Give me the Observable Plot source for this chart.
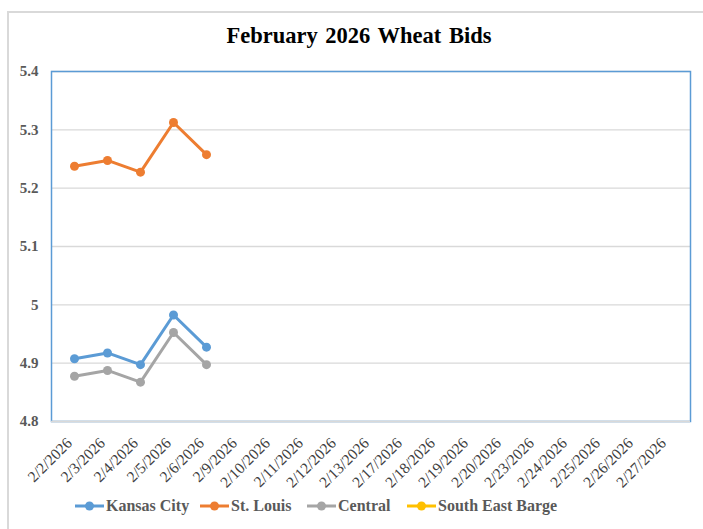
<!DOCTYPE html>
<html>
<head>
<meta charset="utf-8">
<script src="https://cdn.jsdelivr.net/npm/d3@7"></script>
<script src="https://cdn.jsdelivr.net/npm/@observablehq/plot@0.6"></script>
<style>
  html, body { margin: 0; padding: 0; background: #fff; }
  #wrap { position: relative; width: 703px; height: 529px; overflow: hidden; font-family: "Liberation Serif", "Times New Roman", serif; }
  #outer { position: absolute; left: 7px; top: 11px; width: 720px; height: 540px; border-left: 2px solid #d9d9d9; border-top: 2px solid #d9d9d9; }
  #title { position: absolute; left: 0; width: 718px; top: 23px; text-align: center; font-weight: bold; font-size: 22.5px; color: #000; word-spacing: 2px; }
  #chart { position: absolute; left: 0; top: 0; }
  #chart svg, #chart svg text { font-family: "Liberation Serif", "Times New Roman", serif !important; }
  #legend { position: absolute; top: 497px; left: 0; width: 703px; height: 20px; }
  .item { position: absolute; top: 0; display: flex; align-items: center; font-weight: bold; font-size: 16px; color: #595959; }
  .item svg { margin-right: 2px; }
</style>
</head>
<body>
<div id="wrap">
  <div id="outer"></div>
  <div id="chart"></div>
  <div id="title">February 2026 Wheat Bids</div>
  <div id="legend"></div>
</div>
<script>
const dates = ["2/2/2026","2/3/2026","2/4/2026","2/5/2026","2/6/2026","2/9/2026","2/10/2026","2/11/2026","2/12/2026","2/13/2026","2/17/2026","2/18/2026","2/19/2026","2/20/2026","2/23/2026","2/24/2026","2/25/2026","2/26/2026","2/27/2026"];
const kansasCity = [4.9075, 4.9175, 4.8975, 4.9825, 4.9275];
const stLouis = [5.2375, 5.2475, 5.2275, 5.3125, 5.2575];
const central = [4.8775, 4.8875, 4.8675, 4.9525, 4.8975];
const southEastBarge = [];
const seriesNames = ["Kansas City", "St. Louis", "Central", "South East Barge"];
const seriesColors = ["#5B9BD5", "#ED7D31", "#A5A5A5", "#FFC000"];
const yTicks = [4.8, 4.9, 5.0, 5.1, 5.2, 5.3, 5.4];

const allSeries = [kansasCity, stLouis, central, southEastBarge];
const rows = [];
allSeries.forEach((vals, si) => {
  vals.forEach((v, i) => {
    if (v != null) rows.push({series: seriesNames[si], date: dates[i], value: v});
  });
});

const plot = Plot.plot({
  width: 703,
  height: 495,
  marginLeft: 51,
  marginRight: 13,
  marginTop: 71,
  marginBottom: 74,
  style: { fontFamily: '"Liberation Serif", "Times New Roman", serif', background: "transparent", overflow: "visible" },
  x: { type: "point", domain: dates, padding: 0.5, label: null },
  y: { domain: [4.8, 5.4], ticks: yTicks, label: null },
  color: { domain: seriesNames, range: seriesColors },
  marks: [
    Plot.ruleY(yTicks, { stroke: "#d9d9d9", strokeWidth: 1.3 }),
    Plot.frame({ stroke: "#5B9BD5", strokeWidth: 1.5 }),
    Plot.ruleY([4.8], { stroke: "#d9d9d9", strokeWidth: 1.5 }),
    Plot.axisY({ ticks: yTicks, tickSize: 0, tickPadding: 13, fontSize: 15, fontWeight: "bold", fill: "#595959", tickFormat: d => (d === 5 ? "5" : d.toFixed(1)), label: null }),
    Plot.axisX({ tickSize: 0, tickPadding: 19, tickRotate: -45, fontSize: 15.5, fill: "#404040", label: null, dx: -5 }),
    Plot.line(rows, { x: "date", y: "value", z: "series", stroke: "series", strokeWidth: 3, curve: "linear" }),
    Plot.dot(rows, { x: "date", y: "value", fill: "series", r: 4.5 })
  ]
});
document.getElementById("chart").appendChild(plot);

// legend
const legendX = [75, 200, 307, 407];
const legend = document.getElementById("legend");
seriesNames.forEach((name, i) => {
  const item = document.createElement("div");
  item.className = "item";
  item.style.left = legendX[i] + "px";
  const c = seriesColors[i];
  item.innerHTML = `<svg width="29" height="12"><line x1="0" y1="6" x2="29" y2="6" stroke="${c}" stroke-width="3"/><circle cx="14.5" cy="6" r="4.5" fill="${c}"/></svg><span>${name}</span>`;
  legend.appendChild(item);
});
</script>
</body>
</html>
